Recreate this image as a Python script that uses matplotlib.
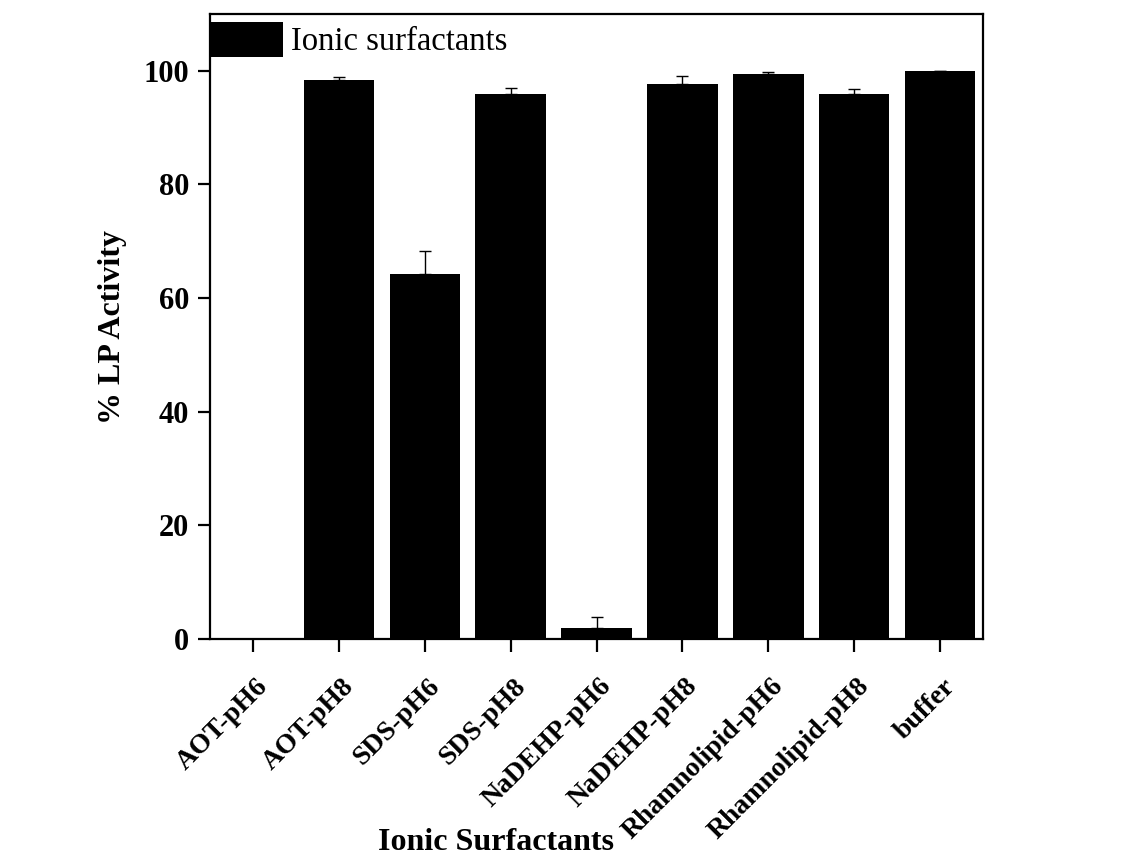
import numpy as np
import matplotlib
matplotlib.use('Agg')
import matplotlib.pyplot as plt
import matplotlib.transforms as mtransforms

plt.rcParams['font.family'] = ['Liberation Serif', 'DejaVu Serif']

# 数据
categories = ['AOT-pH6', 'AOT-pH8', 'SDS-pH6', 'SDS-pH8', 'NaDEHP-pH6',
              'NaDEHP-pH8', 'Rhamnolipid-pH6', 'Rhamnolipid-pH8', 'buffer']
activity = [0.0, 98.4, 64.3, 96.0, 2.0, 97.7, 99.4, 96.0, 100.0]
errors = [0.0, 0.6, 4.0, 0.9, 1.8, 1.4, 0.4, 0.8, 0.0]

fig = plt.figure(figsize=(11.25, 8.56), dpi=100)
ax = fig.add_axes([0.1867, 0.2535, 0.6871, 0.7301])

x = np.arange(len(categories))
bars = ax.bar(x, activity, width=0.82, color='black', label='Ionic surfactants')
# 只画上方误差线
ax.errorbar(x, activity, yerr=[np.zeros(len(errors)), errors], fmt='none',
            ecolor='black', elinewidth=1.0, capsize=4.5, capthick=1.0)

ax.set_xlim(-0.5, 8.5)
ax.set_ylim(0, 110)
ax.set_yticks([0, 20, 40, 60, 80, 100])
ax.set_xticks(x)

for sp in ax.spines.values():
    sp.set_linewidth(1.6)
ax.tick_params(axis='both', direction='out', length=9, width=1.6, pad=6)

ax.set_xticklabels(categories, rotation=45, ha='right', fontsize=20, fontweight='bold')
# 标签整体右移、下移
offset = mtransforms.ScaledTranslation(20 / 100, -14 / 100, fig.dpi_scale_trans)
for lab in ax.get_xticklabels():
    lab.set_transform(lab.get_transform() + offset)
for lab in ax.get_yticklabels():
    lab.set_fontsize(22)
    lab.set_fontweight('bold')

ax.set_ylabel('% LP Activity', fontsize=23, fontweight='bold')
ax.yaxis.set_label_coords(-0.107, 0.5)
ax.set_xlabel('Ionic Surfactants', fontsize=23, fontweight='bold')
ax.xaxis.set_label_coords(0.37, -0.303)

ax.legend(loc='upper left', bbox_to_anchor=(0, 0.987), frameon=False,
          fontsize=23.5, handlelength=2.25, handleheight=1.25, borderpad=0,
          borderaxespad=0, handletextpad=0.24)

fig.savefig('out.png', dpi=100)
